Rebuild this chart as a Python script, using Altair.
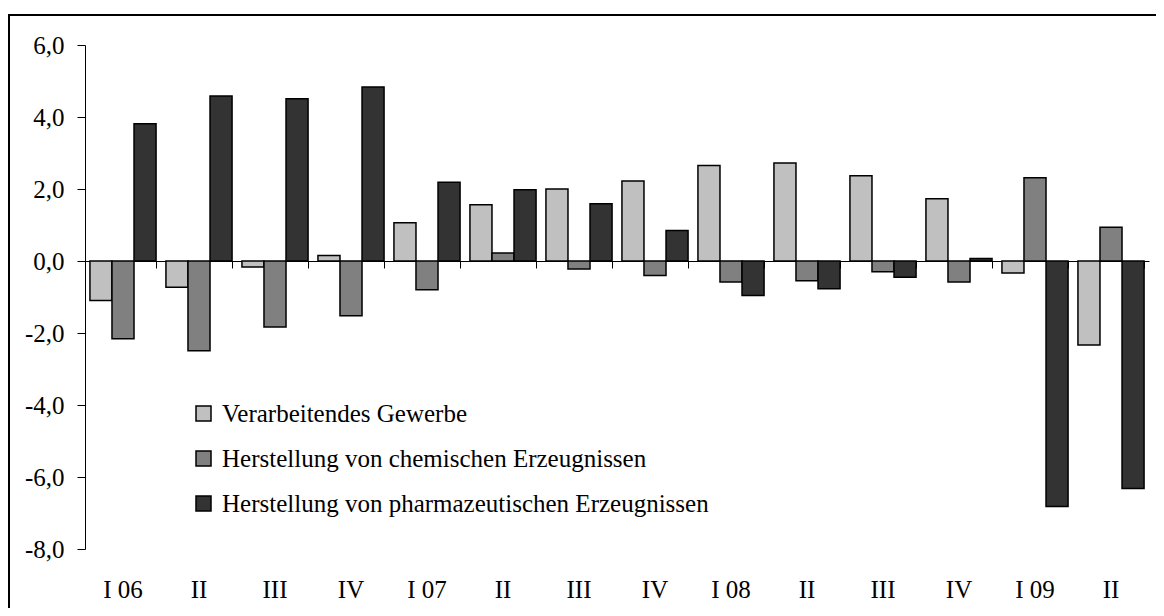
import json
import altair as alt
import pandas as pd

quarters = ["I 06", "II", "III", "IV", "I 07", "II", "III", "IV",
            "I 08", "II", "III", "IV", "I 09", "II"]
series_names = ["Verarbeitendes Gewerbe",
                "Herstellung von chemischen Erzeugnissen",
                "Herstellung von pharmazeutischen Erzeugnissen"]
verarbeitendes = [-1.10, -0.73, -0.17, 0.15, 1.06, 1.56, 2.00, 2.22, 2.65, 2.72, 2.37, 1.73, -0.33, -2.33]
chemie = [-2.16, -2.49, -1.83, -1.52, -0.80, 0.22, -0.22, -0.40, -0.58, -0.55, -0.30, -0.58, 2.31, 0.94]
pharma = [3.81, 4.58, 4.51, 4.83, 2.19, 1.98, 1.59, 0.85, -0.96, -0.77, -0.45, 0.07, -6.82, -6.32]
colors = ["#c0c0c0", "#808080", "#333333"]
y_ticks = [-8, -6, -4, -2, 0, 2, 4, 6]

rows = []
for s, vals in zip(series_names, [verarbeitendes, chemie, pharma]):
    for i, v in enumerate(vals):
        rows.append({"idx": i, "series": s, "value": v})
df = pd.DataFrame(rows)
cats = pd.DataFrame({"idx": list(range(len(quarters)))})

FONT = "Liberation Serif"
FS = 25
W, H = 1064, 504
x_scale = alt.Scale(domain=list(range(len(quarters))), paddingInner=0.13, paddingOuter=0.065)
label_expr = json.dumps(quarters) + "[datum.value]"
y_label_expr = "replace(replace(format(datum.value, '.1f'), '.', ','), '\u2212', '-')"

bars = alt.Chart(df).mark_bar(stroke="black", strokeWidth=1.5).encode(
    x=alt.X("idx:O", scale=x_scale, sort=None,
            axis=alt.Axis(title=None, orient="bottom", labels=False, domain=True,
                          domainColor="black", domainWidth=1, ticks=True,
                          tickBand="extent", tickSize=7, tickColor="black",
                          offset=-288, grid=False)),
    xOffset=alt.XOffset("series:N", sort=series_names,
                        scale=alt.Scale(paddingInner=0, paddingOuter=0)),
    y=alt.Y("value:Q", scale=alt.Scale(domain=[-8, 6], nice=False),
            axis=alt.Axis(title=None, values=y_ticks, grid=False, domainColor="black",
                          tickColor="black", tickSize=8, labelPadding=13,
                          labelFont=FONT, labelFontSize=FS, labelColor="black",
                          labelExpr=y_label_expr)),
    color=alt.Color("series:N", sort=series_names,
                    scale=alt.Scale(domain=series_names, range=colors),
                    legend=alt.Legend(title=None, orient="none", legendX=106, legendY=356,
                                      symbolType="square", symbolSize=225,
                                      symbolStrokeColor="black", symbolStrokeWidth=1.5,
                                      symbolOpacity=1, labelFont=FONT, labelFontSize=FS,
                                      labelColor="black", labelLimit=0, labelOffset=6,
                                      rowPadding=19, padding=0)),
)

labels_layer = alt.Chart(cats).mark_point(opacity=0).encode(
    x=alt.X("idx:O", scale=x_scale, sort=None,
            axis=alt.Axis(title=None, orient="bottom", domain=False, ticks=False,
                          tickSize=0, grid=False, labelAngle=0, labelPadding=28,
                          labelFont=FONT, labelFontSize=FS, labelColor="black",
                          labelExpr=label_expr)),
)

one = pd.DataFrame({"a": [0]})
frame_top = alt.Chart(one).mark_rule(color="black", strokeWidth=2, clip=False).encode(
    x=alt.value(-77), x2=alt.value(1100), y=alt.value(-30)
)
frame_left = alt.Chart(one).mark_rule(color="black", strokeWidth=2, clip=False).encode(
    x=alt.value(-76), y=alt.value(-31), y2=alt.value(620)
)

chart = alt.layer(frame_top, frame_left, bars, labels_layer).resolve_axis(
    x="independent"
).properties(
    width=W, height=H,
    autosize=alt.AutoSizeParams(type="none"),
    padding={"left": 77, "top": 37, "right": 7, "bottom": 59},
    background="white",
).configure_view(stroke=None)

chart.save("out.html", embed_options={"renderer": "svg", "actions": False})
